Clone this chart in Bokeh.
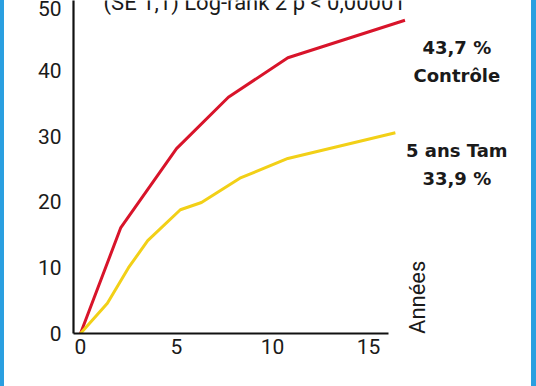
from math import pi
from bokeh.plotting import figure
from bokeh.layouts import row
from bokeh.models import Range1d, FixedTicker, Div
from bokeh.core.properties import value
from bokeh.embed import file_html
from bokeh.resources import INLINE

# Data (years, % events)
controle_x = [0, 2.1, 5.0, 7.7, 10.8, 16.9]
controle_y = [0, 16.1, 28.1, 35.9, 41.9, 47.6]
tam_x = [0, 1.4, 2.5, 3.5, 5.2, 6.3, 8.3, 10.8, 16.4]
tam_y = [0, 4.6, 10.0, 14.1, 18.8, 19.9, 23.6, 26.6, 30.5]

x_ticks = [0, 5, 10, 15]
y_ticks = [0, 10, 20, 30, 40, 50]

title_text = "(SE 1,1) Log-rank 2 p < 0,00001"
label_controle = ["43,7 %", "Contrôle"]
label_tam = ["5 ans Tam", "33,9 %"]
x_title = "Années"

H = 386
LEFT_STRIP, RIGHT_STRIP = 4, 5
W = 536 - LEFT_STRIP - RIGHT_STRIP
p = figure(width=W, height=H, output_backend="svg", toolbar_location=None,
           x_range=Range1d(-0.365, 23.49), y_range=Range1d(0, 50.6),
           min_border_left=73 - LEFT_STRIP, min_border_right=0, min_border_top=0,
           min_border_bottom=53)
p.outline_line_color = None
p.xgrid.visible = False
p.ygrid.visible = False
p.background_fill_color = "white"
p.border_fill_color = "white"

for ax in (p.xaxis[0], p.yaxis[0]):
    ax.axis_line_width = 2.2
    ax.axis_line_color = "#111111"
    ax.major_tick_out = 0
    ax.major_tick_in = 0
    ax.minor_tick_out = 0
    ax.minor_tick_in = 0
    ax.major_label_text_font = "Roboto"
    ax.major_label_text_font_size = "21px"
    ax.major_label_text_color = "#1a1a1a"

p.xaxis.ticker = FixedTicker(ticks=x_ticks)
p.yaxis.ticker = FixedTicker(ticks=y_ticks)
p.xaxis.bounds = (-0.365, 16.04)
p.xaxis.major_label_standoff = 5
p.yaxis.major_label_standoff = 12

p.line(controle_x, controle_y, line_color="#d8142a", line_width=3)
p.line(tam_x, tam_y, line_color="#f2d017", line_width=3)

bold = dict(text_font=value("DejaVu Sans"), text_font_style="bold",
            text_font_size="18px", text_color="#1a1a1a",
            text_align="center", text_baseline="middle")
p.text(x=[19.6, 19.6], y=[43.5, 39.2], text=label_controle, **bold)
p.text(x=[19.6, 19.6], y=[27.8, 23.6], text=label_tam, **bold)

p.text(x=[17.55], y=[5.5], text=[x_title], angle=pi / 2,
       text_font=value("Roboto"), text_font_size="22px", text_color="#1a1a1a",
       text_align="center", text_baseline="middle")

p.text(x=[1.2], y=[50.35], text=[title_text],
       text_font=value("Roboto"), text_font_size="22px", text_color="#1a1a1a",
       text_align="left", text_baseline="alphabetic")

strip_style = {"background-color": "#2a9fe0"}
left = Div(width=LEFT_STRIP, height=H, styles=strip_style, margin=0)
right = Div(width=RIGHT_STRIP, height=H, styles=strip_style, margin=0)
page = row(left, p, right, spacing=0, margin=0)

open("out.html", "w").write(file_html(page, INLINE))
